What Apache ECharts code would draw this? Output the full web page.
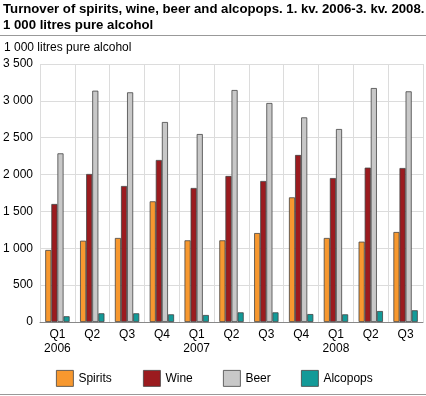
<!DOCTYPE html>
<html><head><meta charset="utf-8">
<script src="https://cdn.jsdelivr.net/npm/echarts@6/dist/echarts.min.js"></script>
<style>html,body{margin:0;padding:0;background:#fff}#c{width:426px;height:396px}</style>
</head><body><div id="c"></div>
<script>
var categories = ['Q1\n2006','Q2','Q3','Q4','Q1\n2007','Q2','Q3','Q4','Q1\n2008','Q2','Q3'];
var spirits  = [977,1103,1140,1637,1108,1108,1207,1691,1140,1090,1221];
var wine     = [1601,2008,1845,2198,1818,1981,1913,2266,1953,2094,2089];
var beer     = [2288,3138,3116,2713,2550,3147,2971,2776,2618,3174,3129];
var alcopops = [78,118,118,104,95,131,131,108,104,149,159];
var seriesNames = ['Spirits','Wine','Beer','Alcopops'];

var font = 'Liberation Sans, Arial, sans-serif';
function fmt(v){ return String(v).replace(/\B(?=(\d{3})+(?!\d))/g,' '); }
function s(name, data, color){
  return {name:name, type:'bar', data:data, barGap:'0%', barCategoryGap:'30%',
    itemStyle:{color:color, borderColor:'#444', borderWidth:0.8}, animation:false};
}
var legendLefts = [56, 143, 223, 301];
var legends = seriesNames.map(function(n, i){
  return {top:370, left:legendLefts[i], padding:0, itemWidth:17, itemHeight:16, icon:'rect',
    itemStyle:{borderColor:'#444', borderWidth:0.8},
    textStyle:{fontFamily:font, fontSize:12, color:'#000'}, data:[n]};
});
var chart = echarts.init(document.getElementById('c'), null, {renderer:'canvas'});
chart.setOption({
  animation:false,
  graphic:[
    {type:'text', left:3, top:3, style:{text:'Turnover of spirits, wine, beer and alcopops. 1. kv. 2006-3. kv. 2008.', font:'bold 13.2px '+font, fill:'#000'}},
    {type:'text', left:3, top:19, style:{text:'1 000 litres pure alcohol', font:'bold 13.2px '+font, fill:'#000'}},
    {type:'line', shape:{x1:0,y1:35.5,x2:426,y2:35.5}, style:{stroke:'#999',lineWidth:1}},
    {type:'line', shape:{x1:0,y1:394.5,x2:426,y2:394.5}, style:{stroke:'#999',lineWidth:1}},
    {type:'text', left:4, top:42, style:{text:'1 000 litres pure alcohol', font:'12px '+font, fill:'#000'}}
  ],
  legend:legends,
  grid:{left:40, right:3, top:64, bottom:74, containLabel:false},
  xAxis:{type:'category', data:categories,
    axisLine:{lineStyle:{color:'#888'}}, axisTick:{show:false},
    splitLine:{show:true, lineStyle:{color:'#dcdcdc'}},
    axisLabel:{fontFamily:font, fontSize:12, color:'#000', margin:6, lineHeight:14}},
  yAxis:{type:'value', min:0, max:3500, interval:500,
    axisLine:{show:false}, axisTick:{show:false},
    splitLine:{lineStyle:{color:'#dcdcdc'}},
    axisLabel:{fontFamily:font, fontSize:12, color:'#000', margin:7, formatter:function(v){return fmt(v);}}},
  series:[s('Spirits',spirits,'#f7982f'), s('Wine',wine,'#9b1b1f'), s('Beer',beer,'#c8c8c8'), s('Alcopops',alcopops,'#139a98')]
});
</script></body></html>
